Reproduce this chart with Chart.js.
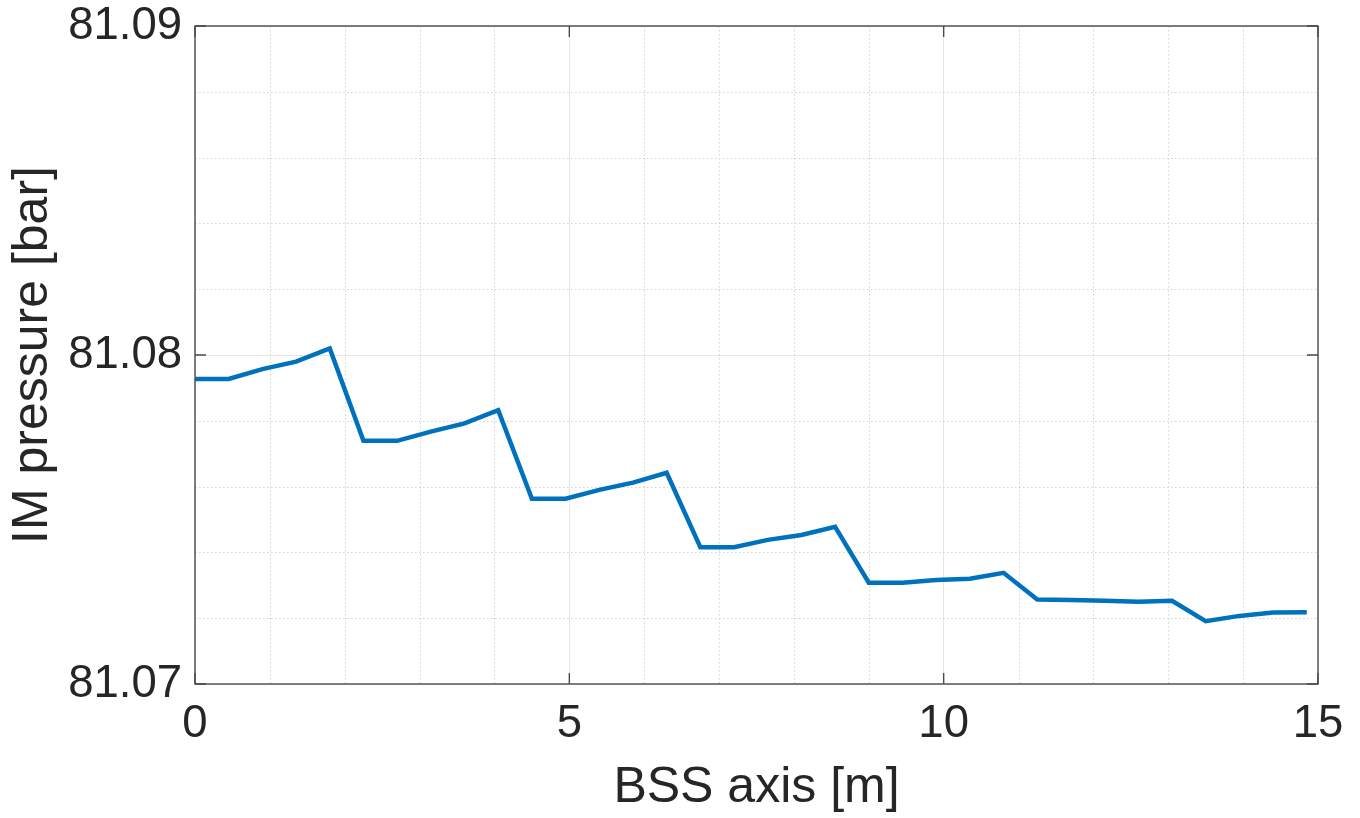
<!DOCTYPE html>
<html>
<head>
<meta charset="utf-8">
<script src="https://cdn.jsdelivr.net/npm/chart.js@4"></script>
<style>
  html, body { margin: 0; padding: 0; background: #ffffff; }
  #wrap { width: 1360px; height: 818px; }
</style>
</head>
<body>
<div id="wrap"><canvas id="c" width="1360" height="818"></canvas></div>
<script>
// ---- data ----
const bssAxis = [0, 0.45, 0.9, 1.35, 1.8, 2.25, 2.7, 3.15, 3.6, 4.05, 4.5, 4.95,
  5.4, 5.85, 6.3, 6.75, 7.2, 7.65, 8.1, 8.55, 9.0, 9.45, 9.9, 10.35, 10.8,
  11.25, 11.7, 12.15, 12.6, 13.05, 13.5, 13.95, 14.4, 14.85];
const imPressure = [81.07927, 81.07927, 81.07957, 81.07980, 81.08020,
  81.07739, 81.07739, 81.07767, 81.07792, 81.07832,
  81.07563, 81.07563, 81.07590, 81.07612, 81.07642,
  81.07416, 81.07416, 81.07438, 81.07453, 81.07478,
  81.07308, 81.07308, 81.07316, 81.07320, 81.07338,
  81.07257, 81.07255, 81.07253, 81.07250, 81.07253,
  81.07191, 81.07207, 81.07217, 81.07218];
const xMajorTicks = [0, 5, 10, 15];
const xMinorTicks = [1, 2, 3, 4, 6, 7, 8, 9, 11, 12, 13, 14];
const yMajorTicks = [81.07, 81.08, 81.09];
const yMinorTicks = [81.072, 81.074, 81.076, 81.078, 81.082, 81.084, 81.086, 81.088];
const xTitle = 'BSS axis [m]';
const yTitle = 'IM pressure [bar]';

const FONT = '"Liberation Sans", Arial, Helvetica, sans-serif';
const TEXT = '#262626';
const AXIS = '#4a4a4a';

const points = bssAxis.map((x, i) => ({ x: x, y: imPressure[i] }));

const matlabAxes = {
  id: 'matlabAxes',
  beforeDatasetsDraw(chart) {
    const { ctx, chartArea: a, scales: { x, y } } = chart;
    ctx.save();
    ctx.strokeStyle = '#d2d2d2';
    ctx.lineWidth = 1;
    ctx.setLineDash([1.5, 2.5]);
    xMinorTicks.forEach(v => {
      const px = Math.round(x.getPixelForValue(v)) + 0.5;
      ctx.beginPath(); ctx.moveTo(px, a.top); ctx.lineTo(px, a.bottom); ctx.stroke();
    });
    yMinorTicks.forEach(v => {
      const py = Math.round(y.getPixelForValue(v)) + 0.5;
      ctx.beginPath(); ctx.moveTo(a.left, py); ctx.lineTo(a.right, py); ctx.stroke();
    });
    ctx.restore();
  },
  afterDatasetsDraw(chart) {
    const { ctx, chartArea: a, scales: { x, y } } = chart;
    ctx.save();
    ctx.strokeStyle = AXIS;
    ctx.lineWidth = 1.4;
    ctx.setLineDash([]);
    ctx.strokeRect(a.left, a.top, a.right - a.left, a.bottom - a.top);
    const tl = 11;
    xMajorTicks.forEach(v => {
      const px = x.getPixelForValue(v);
      ctx.beginPath();
      ctx.moveTo(px, a.bottom); ctx.lineTo(px, a.bottom - tl);
      ctx.moveTo(px, a.top); ctx.lineTo(px, a.top + tl);
      ctx.stroke();
    });
    yMajorTicks.forEach(v => {
      const py = y.getPixelForValue(v);
      ctx.beginPath();
      ctx.moveTo(a.left, py); ctx.lineTo(a.left + tl, py);
      ctx.moveTo(a.right, py); ctx.lineTo(a.right - tl, py);
      ctx.stroke();
    });
    ctx.restore();
  }
};

new Chart(document.getElementById('c'), {
  type: 'line',
  data: {
    datasets: [{
      data: points,
      borderColor: '#0072BD',
      backgroundColor: '#0072BD',
      borderWidth: 4.5,
      pointRadius: 0,
      tension: 0,
      fill: false
    }]
  },
  options: {
    responsive: false,
    devicePixelRatio: 1,
    animation: false,
    layout: { padding: { left: 0, top: 26, right: 42, bottom: 0 } },
    plugins: { legend: { display: false }, tooltip: { enabled: false } },
    scales: {
      x: {
        type: 'linear',
        min: 0, max: 15,
        afterBuildTicks(scale) { scale.ticks = xMajorTicks.map(v => ({ value: v })); },
        afterFit(scale) {
          scale.height = 134;
          scale.paddingLeft = 0; scale.paddingRight = 0;
          scale.paddingTop = 0; scale.paddingBottom = 0;
        },
        ticks: {
          color: TEXT,
          font: { family: FONT, size: 45.5 },
          padding: 13,
          maxRotation: 0,
          autoSkip: false,
          callback: v => String(v)
        },
        grid: { color: '#e6e6e6', lineWidth: 1, drawTicks: false },
        border: { display: false },
        title: {
          display: true, text: xTitle, color: TEXT,
          font: { family: FONT, size: 50 },
          padding: { top: 0, bottom: 0 }
        }
      },
      y: {
        type: 'linear',
        min: 81.07, max: 81.09,
        afterBuildTicks(scale) { scale.ticks = yMajorTicks.map(v => ({ value: v })); },
        afterFit(scale) {
          scale.width = 195;
          scale.paddingLeft = 0; scale.paddingRight = 0;
          scale.paddingTop = 0; scale.paddingBottom = 0;
        },
        ticks: {
          color: TEXT,
          font: { family: FONT, size: 45.5 },
          padding: 13,
          autoSkip: false,
          callback: v => Number(v).toFixed(2)
        },
        grid: { color: '#e6e6e6', lineWidth: 1, drawTicks: false },
        border: { display: false },
        title: {
          display: true, text: yTitle, color: TEXT,
          font: { family: FONT, size: 50 },
          padding: { top: 3, bottom: 0 }
        }
      }
    }
  },
  plugins: [matlabAxes]
});
</script>
</body>
</html>
